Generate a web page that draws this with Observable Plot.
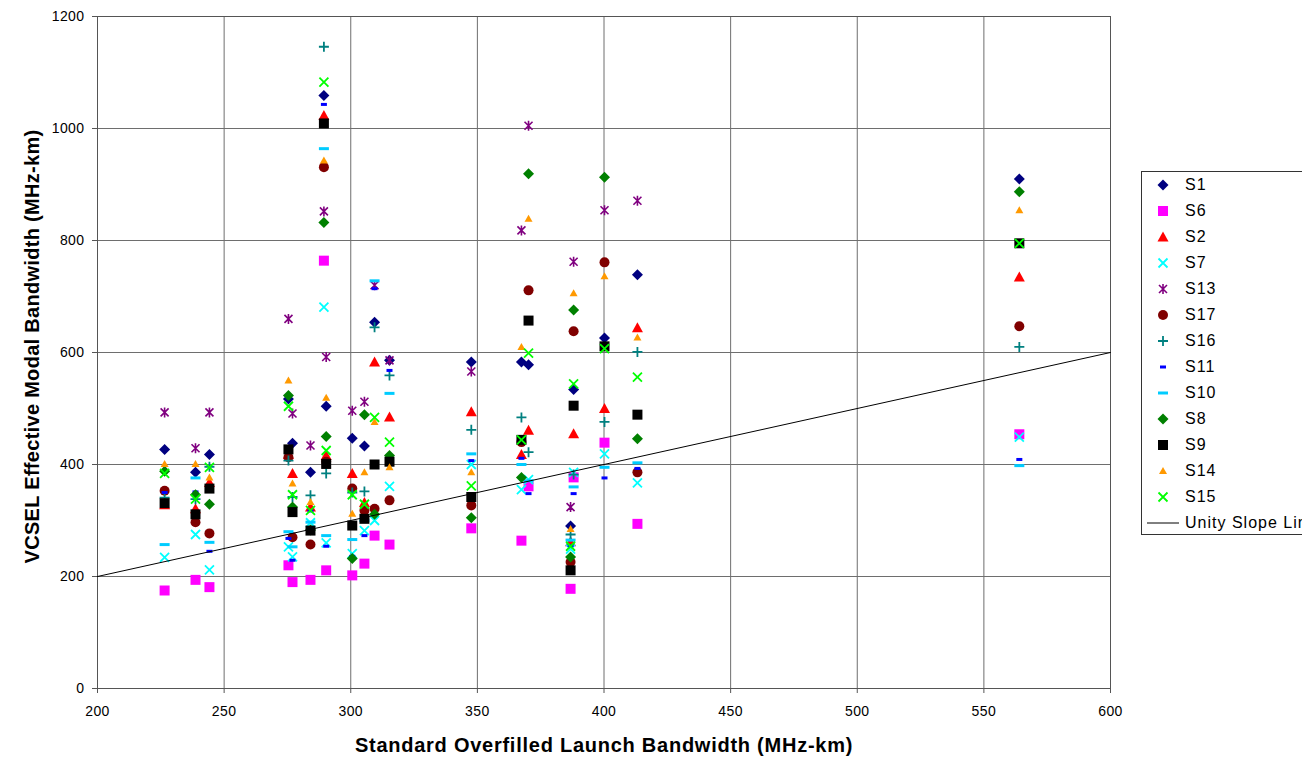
<!DOCTYPE html>
<html><head><meta charset="utf-8">
<script src="https://cdn.jsdelivr.net/npm/d3@7"></script>
<script src="https://cdn.jsdelivr.net/npm/@observablehq/plot@0.6"></script>
<style>
body{margin:0;background:#fff;font-family:"Liberation Sans",Arial,sans-serif;}
#wrap{position:relative;width:1302px;height:761px;overflow:hidden;background:#fff;}
#legend{position:absolute;left:1141px;top:171px;width:200px;height:364px;border:1px solid #333;box-sizing:border-box;background:#fff;}
.row{position:absolute;left:0;height:20px;display:flex;align-items:center;font-size:16px;letter-spacing:1px;color:#000;white-space:nowrap;}
.row svg{display:block;}
.ttlx{letter-spacing:0.75px;}
.ttly{letter-spacing:0.3px;}
.tk text{letter-spacing:0.4px;}
</style></head><body><div id="wrap"></div>
<script>
// Fiber positions (standard overfilled launch bandwidth, MHz-km)
const fiberX = [226.5, 238.7, 244.2, 275.4, 277.0, 284.1, 289.4, 290.3, 300.6, 305.4, 309.4, 315.3, 347.6, 367.4, 370.2, 388.0, 386.8, 400.2, 413.2, 564.0];

// VCSEL effective modal bandwidth per series (same order as fiberX); null = not shown
const S1  = [427, 386, 418, 517, 438, 386, 1059, 504, 447, 433, 654, 586, 583, 583, 578, 534, 290, 626, 739, 910];
const S6  = [175, 194, 181, 220, 190, 194, 764, 211, 202, 223, 273, 257, 286, 264, 361, 377, 178, 439, 294, 454];
const S2  = [328, 321, 368, 418, 384, 324, 1023, 416, 384, 332, 583, 485, 494, 418, 461, 455, 262, 500, 644, 735];
const S7  = [234, 275, 212, 253, 235, 296, 681, 260, 241, 282, 300, 361, 400, 355, 373, 386, 249, 419, 367, 449];
const S13 = [493, 429, 493, 660, 491, 434, 852, 592, 496, 512, 720, 586, 566, 818, 1005, 762, 324, 854, 871, null];
const S17 = [353, 297, 277, 413, 270, 257, 931, 405, 357, 318, 321, 336, 327, 440, 711, 638, 226, 761, 386, 647];
const S16 = [341, 338, 396, 407, 342, 345, 1146, 384, 350, 352, 645, 559, 462, 484, 422, 382, 275, 476, 601, 610];
const S11 = [350, 351, 245, 268, 229, 317, 1043, 254, 236, 273, 714, 568, 407, 411, 348, 348, 255, 376, 393, 409];
const S10 = [257, 376, 261, 280, 253, 297, 964, 273, 266, 300, 728, 527, 419, 400, 371, 360, 265, 395, 403, 398];
const S8  = [388, 346, 329, 523, 324, 283, 832, 450, 232, 489, 311, 416, 305, 377, 919, 676, 235, 913, 446, 887];
const S9  = [331, 311, 357, 427, 315, 282, 1009, 401, 291, 303, 400, 405, 342, 444, 657, 505, 211, 611, 489, 795];
const S14 = [401, 401, 377, 550, 366, 333, 943, 519, 312, 386, 476, 395, 386, 610, 839, 706, 285, 736, 627, 854];
const S15 = [384, 338, 395, 504, 346, 318, 1083, 425, 346, 329, 484, 440, 362, 444, 599, 544, 254, 607, 556, 795];

const seriesNames  = ["S1","S6","S2","S7","S13","S17","S16","S11","S10","S8","S9","S14","S15"];
const seriesValues = [S1, S6, S2, S7, S13, S17, S16, S11, S10, S8, S9, S14, S15];
const seriesColors = ["#000080","#ff00ff","#ff0000","#00ffff","#800080","#800000","#008080","#0000ff","#00ccff","#008000","#000000","#ff9900","#00ff00"];
const seriesShapes = ["diamond","square","triangle","x","star","circle","plus","dash","longdash","diamond","square","smalltri","x"];

const unityX = [200, 600];
const unityY = [200, 600];
const xTicks = [200, 250, 300, 350, 400, 450, 500, 550, 600];
const yTicks = [0, 200, 400, 600, 800, 1000, 1200];

const stroked = new Set(["x","star","plus"]);
function sym(kind){
  return {draw(c){
    switch(kind){
      case "diamond": c.moveTo(0,-5.5);c.lineTo(5.5,0);c.lineTo(0,5.5);c.lineTo(-5.5,0);c.closePath();break;
      case "square": c.rect(-5,-5,10,10);break;
      case "triangle": c.moveTo(0,-5.5);c.lineTo(5.5,4.5);c.lineTo(-5.5,4.5);c.closePath();break;
      case "smalltri": c.moveTo(0,-4);c.lineTo(4,3);c.lineTo(-4,3);c.closePath();break;
      case "x": c.moveTo(-4.5,-4.5);c.lineTo(4.5,4.5);c.moveTo(4.5,-4.5);c.lineTo(-4.5,4.5);break;
      case "star": c.moveTo(-4,-4);c.lineTo(4,4);c.moveTo(4,-4);c.lineTo(-4,4);c.moveTo(0,-5);c.lineTo(0,5);break;
      case "circle": c.moveTo(5,0);c.arc(0,0,5,0,2*Math.PI);c.closePath();break;
      case "plus": c.moveTo(-5,0);c.lineTo(5,0);c.moveTo(0,-5);c.lineTo(0,5);break;
      case "dash": c.rect(-3,-1.5,6,3);break;
      case "longdash": c.rect(-5,-1.5,10,3);break;
    }
  }};
}

const dotMarks = seriesNames.map((name, i) => {
  const rows = fiberX.map((x, j) => ({x, y: seriesValues[i][j]})).filter(d => d.y != null);
  const kind = seriesShapes[i];
  const col = seriesColors[i];
  return Plot.dot(rows, stroked.has(kind)
    ? {x: "x", y: "y", r: 5, symbol: sym(kind), fill: "none", stroke: col, strokeWidth: kind === "star" ? 1.6 : 1.8}
    : {x: "x", y: "y", r: 5, symbol: sym(kind), fill: col, stroke: "none"});
});

const unity = unityX.map((x, i) => ({x, y: unityY[i]}));

const chart = Plot.plot({
  width: 1302, height: 761,
  marginLeft: 97, marginRight: 192, marginTop: 16, marginBottom: 73,
  style: {fontFamily: "'Liberation Sans', Arial, sans-serif", fontSize: "14px", background: "#fff", overflow: "visible"},
  x: {domain: [200, 600], label: null},
  y: {domain: [0, 1200], label: null},
  marks: [
    Plot.gridX(xTicks, {stroke: "#6e6e6e", strokeOpacity: 1, strokeWidth: 1}),
    Plot.gridY(yTicks, {stroke: "#6e6e6e", strokeOpacity: 1, strokeWidth: 1}),
    Plot.frame({stroke: "#555", strokeWidth: 1}),
    Plot.axisX(xTicks, {tickSize: 5, tickPadding: 13, tickFormat: d => String(d), label: null, fontSize: 14, stroke: "#555", className: "tk"}),
    Plot.axisY(yTicks, {tickSize: 5, tickPadding: 8, tickFormat: d => String(d), label: null, fontSize: 14, stroke: "#555", className: "tk"}),
    ...dotMarks,
    Plot.line(unity, {x: "x", y: "y", stroke: "#000", strokeWidth: 1}),
    Plot.text(["Standard Overfilled Launch Bandwidth (MHz-km)"], {frameAnchor: "bottom", dy: 63, text: d => d, fontWeight: "bold", fontSize: 20, className: "ttlx"}),
    Plot.text(["VCSEL Effective Modal Bandwidth (MHz-km)"], {frameAnchor: "left", dx: -65, dy: -6, rotate: -90, textAnchor: "middle", text: d => d, fontWeight: "bold", fontSize: 20, className: "ttly"})
  ]
});

const wrap = document.getElementById("wrap");
wrap.appendChild(chart);

// Legend
const legend = document.createElement("div");
legend.id = "legend";
seriesNames.forEach((name, i) => {
  const row = document.createElement("div");
  row.className = "row";
  row.style.top = (13 + i * 26 - 10) + "px";
  const kind = seriesShapes[i];
  const p = d3.path(); sym(kind).draw(p);
  const fillAttr = stroked.has(kind) ? `fill="none" stroke="${seriesColors[i]}" stroke-width="${kind === "star" ? 1.6 : 1.8}"` : `fill="${seriesColors[i]}"`;
  row.innerHTML = `<svg width="42" height="20" viewBox="-21 -10 42 20"><path d="${p.toString()}" ${fillAttr}/></svg><span style="margin-left:1px">${name}</span>`;
  legend.appendChild(row);
});
const urow = document.createElement("div");
urow.className = "row";
urow.style.top = (13 + 13 * 26 - 10) + "px";
urow.innerHTML = `<svg width="42" height="20"><line x1="5" x2="37" y1="10" y2="10" stroke="#000" stroke-width="1"/></svg><span style="margin-left:1px">Unity Slope Line</span>`;
legend.appendChild(urow);
wrap.appendChild(legend);
</script>
</body></html>
